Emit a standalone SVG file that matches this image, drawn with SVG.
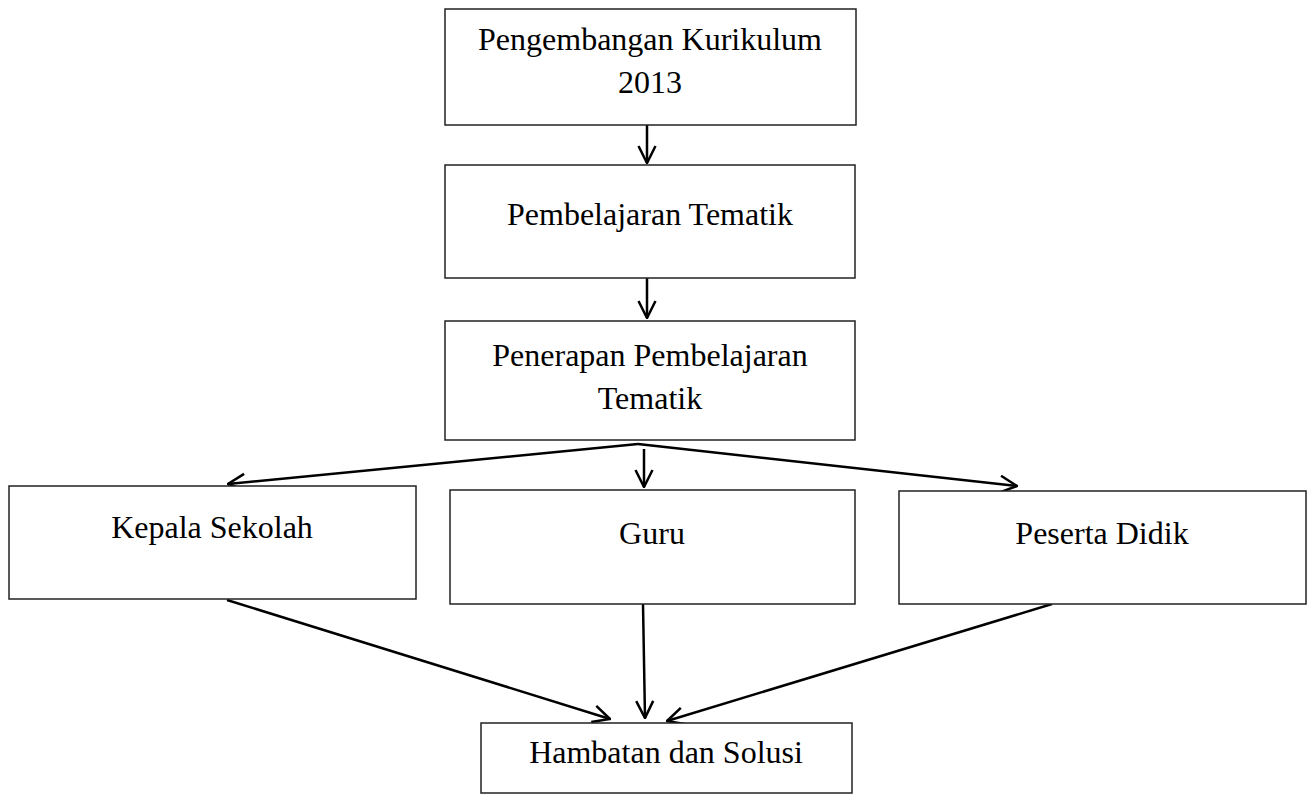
<svg xmlns="http://www.w3.org/2000/svg" width="1312" height="795" viewBox="0 0 1312 795">
<style>
.box{fill:#fff;stroke:#222;stroke-width:1.5}
.lbl{font-family:"Liberation Serif","Times New Roman",serif;font-size:32px;fill:#000;text-anchor:middle}
.edge{stroke:#000;stroke-width:2.5;fill:none;marker-end:url(#ah)}
</style>
<defs>
<marker id="ah" viewBox="0 0 20 20" refX="19" refY="10" markerWidth="20" markerHeight="20" markerUnits="userSpaceOnUse" orient="auto">
<path d="M2,1.5 L19,10 L2,18.5" fill="none" stroke="#000" stroke-width="2.5"/>
</marker>
</defs>
<rect width="1312" height="795" fill="#fff"/>
<g id="connectors">
<line class="edge" x1="647" y1="125" x2="647" y2="163"/>
<line class="edge" x1="647" y1="278" x2="647" y2="318"/>
<line class="edge" x1="638" y1="444" x2="228" y2="484"/>
<line class="edge" x1="644" y1="449" x2="644" y2="487"/>
<line class="edge" x1="638" y1="444" x2="1017" y2="486"/>
<line class="edge" x1="227" y1="600" x2="610" y2="719"/>
<line class="edge" x1="643" y1="604" x2="645" y2="718"/>
<line class="edge" x1="1052" y1="604" x2="667" y2="721"/>
</g>
<g id="n1"><rect class="box" x="445" y="9" width="411" height="116"/><text class="lbl" x="650" y="50">Pengembangan Kurikulum</text><text class="lbl" x="650" y="93">2013</text></g>
<g id="n2"><rect class="box" x="445" y="165" width="410" height="113"/><text class="lbl" x="650" y="225">Pembelajaran Tematik</text></g>
<g id="n3"><rect class="box" x="445" y="321" width="410" height="119"/><text class="lbl" x="650" y="366">Penerapan Pembelajaran</text><text class="lbl" x="650" y="409">Tematik</text></g>
<g id="n4"><rect class="box" x="9" y="486" width="407" height="113"/><text class="lbl" x="212" y="538">Kepala Sekolah</text></g>
<g id="n5"><rect class="box" x="450" y="490" width="405" height="114"/><text class="lbl" x="652" y="544">Guru</text></g>
<g id="n6"><rect class="box" x="899" y="491" width="407" height="113"/><text class="lbl" x="1102" y="544">Peserta Didik</text></g>
<g id="n7"><rect class="box" x="481" y="723" width="371" height="70"/><text class="lbl" x="666" y="763">Hambatan dan Solusi</text></g>
</svg>
